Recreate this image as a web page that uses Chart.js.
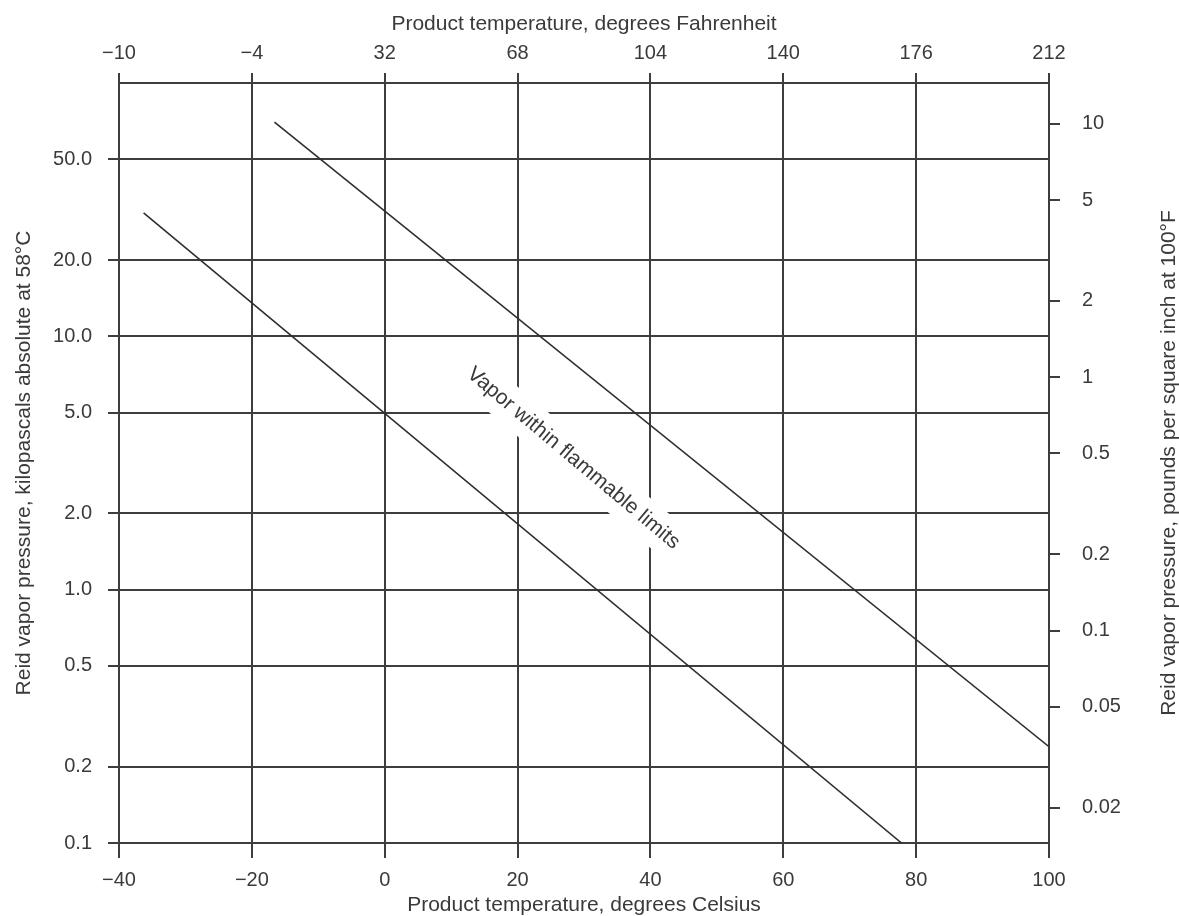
<!DOCTYPE html>
<html>
<head>
<meta charset="utf-8">
<script src="https://cdn.jsdelivr.net/npm/chart.js@4"></script>
<style>
  html, body { margin: 0; padding: 0; background: #fff; }
  canvas { display: block; }
</style>
</head>
<body>
<canvas id="vaporChart" width="1179" height="916"></canvas>
<script>
// Axis ticks and labels
const celsiusTicks = [-40, -20, 0, 20, 40, 60, 80, 100];
const celsiusLabels = ['\u221240', '\u221220', '0', '20', '40', '60', '80', '100'];
const fahrenheitLabels = ['\u221210', '\u22124', '32', '68', '104', '140', '176', '212'];
const kpaTicks = [0.1, 0.2, 0.5, 1, 2, 5, 10, 20, 50];
const kpaLabels = ['0.1', '0.2', '0.5', '1.0', '2.0', '5.0', '10.0', '20.0', '50.0'];
const psiTicks = [0.02, 0.05, 0.1, 0.2, 0.5, 1, 2, 5, 10];
const psiLabels = ['0.02', '0.05', '0.1', '0.2', '0.5', '1', '2', '5', '10'];
const KPA_PER_PSI = 6.895;

// Boundary lines (temperature in degC, pressure in kPa)
const upperLineTemp = [-16.6, 100];
const upperLineKpa = [70, 0.24];
const lowerLineTemp = [-36.3, 77.8];
const lowerLineKpa = [30.7, 0.1];

// Region label
const labelText = 'Vapor within flammable limits';
const labelAt = [28.4, 3.3];
const labelAngle = 40;

const textColor = '#3a3a3a';
const gridColor = '#3d3d3d';
const fontFamily = '"Liberation Sans", Arial, Helvetica, sans-serif';

Chart.defaults.font.family = fontFamily;
Chart.defaults.color = textColor;

const toPoints = (xs, ys) => xs.map((v, i) => ({ x: v, y: ys[i] }));

const regionLabel = {
    id: 'regionLabel',
    beforeDatasetsDraw(chart) {
        const { ctx, scales: { x, y } } = chart;
        const px = x.getPixelForValue(labelAt[0]);
        const py = y.getPixelForValue(labelAt[1]);
        ctx.save();
        ctx.translate(px, py);
        ctx.rotate(labelAngle * Math.PI / 180);
        ctx.font = '21px ' + fontFamily;
        const w = ctx.measureText(labelText).width;
        ctx.fillStyle = '#fff';
        ctx.fillRect(-w / 2 - 8, -19, w + 16, 38);
        ctx.fillStyle = textColor;
        ctx.textAlign = 'center';
        ctx.textBaseline = 'middle';
        ctx.fillText(labelText, 0, 0);
        ctx.restore();
    }
};

// right axis title reads bottom-to-top like the left one
const rightTitle = {
    id: 'rightTitle',
    afterDraw(chart) {
        const { ctx, chartArea } = chart;
        ctx.save();
        ctx.translate(1169, (chartArea.top + chartArea.bottom) / 2);
        ctx.rotate(-Math.PI / 2);
        ctx.font = '21px ' + fontFamily;
        ctx.fillStyle = textColor;
        ctx.textAlign = 'center';
        ctx.textBaseline = 'middle';
        ctx.fillText('Reid vapor pressure, pounds per square inch at 100\u00B0F', 0, 0);
        ctx.restore();
    }
};

const lineStyle = {
    borderColor: '#2e2e2e',
    borderWidth: 1.6,
    pointRadius: 0,
    showLine: true,
    fill: false
};

new Chart(document.getElementById('vaporChart'), {
    type: 'scatter',
    data: {
        datasets: [
            Object.assign({ label: 'upper', data: toPoints(upperLineTemp, upperLineKpa) }, lineStyle),
            Object.assign({ label: 'lower', data: toPoints(lowerLineTemp, lowerLineKpa) }, lineStyle)
        ]
    },
    options: {
        responsive: false,
        animation: false,
        layout: { padding: 0 },
        plugins: {
            legend: { display: false },
            tooltip: { enabled: false }
        },
        scales: {
            x: {
                type: 'linear',
                position: 'bottom',
                min: -40,
                max: 100,
                afterBuildTicks: s => { s.ticks = celsiusTicks.map(v => ({ value: v })); },
                afterFit: s => { s.height = 73; },
                ticks: {
                    autoSkip: false,
                    maxRotation: 0,
                    padding: 10,
                    font: { size: 20 },
                    callback: (v) => celsiusLabels[celsiusTicks.indexOf(v)]
                },
                grid: { color: gridColor, lineWidth: 2, tickLength: 15 },
                border: { display: true, color: gridColor, width: 2 },
                title: {
                    display: true,
                    text: 'Product temperature, degrees Celsius',
                    font: { size: 21, lineHeight: 1 },
                    padding: { top: 0, bottom: 0 }
                }
            },
            xTop: {
                type: 'linear',
                position: 'top',
                min: -40,
                max: 100,
                afterBuildTicks: s => { s.ticks = celsiusTicks.map(v => ({ value: v })); },
                afterFit: s => { s.height = 83; },
                ticks: {
                    autoSkip: false,
                    maxRotation: 0,
                    padding: 8,
                    font: { size: 20 },
                    callback: (v) => fahrenheitLabels[celsiusTicks.indexOf(v)]
                },
                grid: { drawOnChartArea: false, color: gridColor, lineWidth: 2, tickLength: 10 },
                border: { display: true, color: gridColor, width: 2 },
                title: {
                    display: true,
                    text: 'Product temperature, degrees Fahrenheit',
                    font: { size: 21, lineHeight: 1 },
                    padding: { top: 14, bottom: 0 }
                }
            },
            y: {
                type: 'logarithmic',
                position: 'left',
                min: 0.1,
                max: 100,
                afterBuildTicks: s => { s.ticks = kpaTicks.map(v => ({ value: v })); },
                afterFit: s => { s.width = 119; },
                ticks: {
                    autoSkip: false,
                    padding: 16,
                    font: { size: 20 },
                    callback: (v) => kpaLabels[kpaTicks.indexOf(v)]
                },
                grid: { color: gridColor, lineWidth: 2, tickLength: 11 },
                border: { display: true, color: gridColor, width: 2 },
                title: {
                    display: true,
                    text: 'Reid vapor pressure, kilopascals absolute at 58\u00B0C',
                    font: { size: 21, lineHeight: 1 },
                    padding: { top: 14, bottom: 0 }
                }
            },
            yPsi: {
                type: 'logarithmic',
                position: 'right',
                min: 0.1 / KPA_PER_PSI,
                max: 100 / KPA_PER_PSI,
                afterBuildTicks: s => { s.ticks = psiTicks.map(v => ({ value: v })); },
                afterFit: s => { s.width = 130; },
                ticks: {
                    autoSkip: false,
                    padding: 22,
                    font: { size: 20 },
                    callback: (v) => psiLabels[psiTicks.indexOf(v)]
                },
                grid: { drawOnChartArea: false, color: gridColor, lineWidth: 2, tickLength: 11 },
                border: { display: true, color: gridColor, width: 2 }
            }
        }
    },
    plugins: [regionLabel, rightTitle]
});
</script>
</body>
</html>
